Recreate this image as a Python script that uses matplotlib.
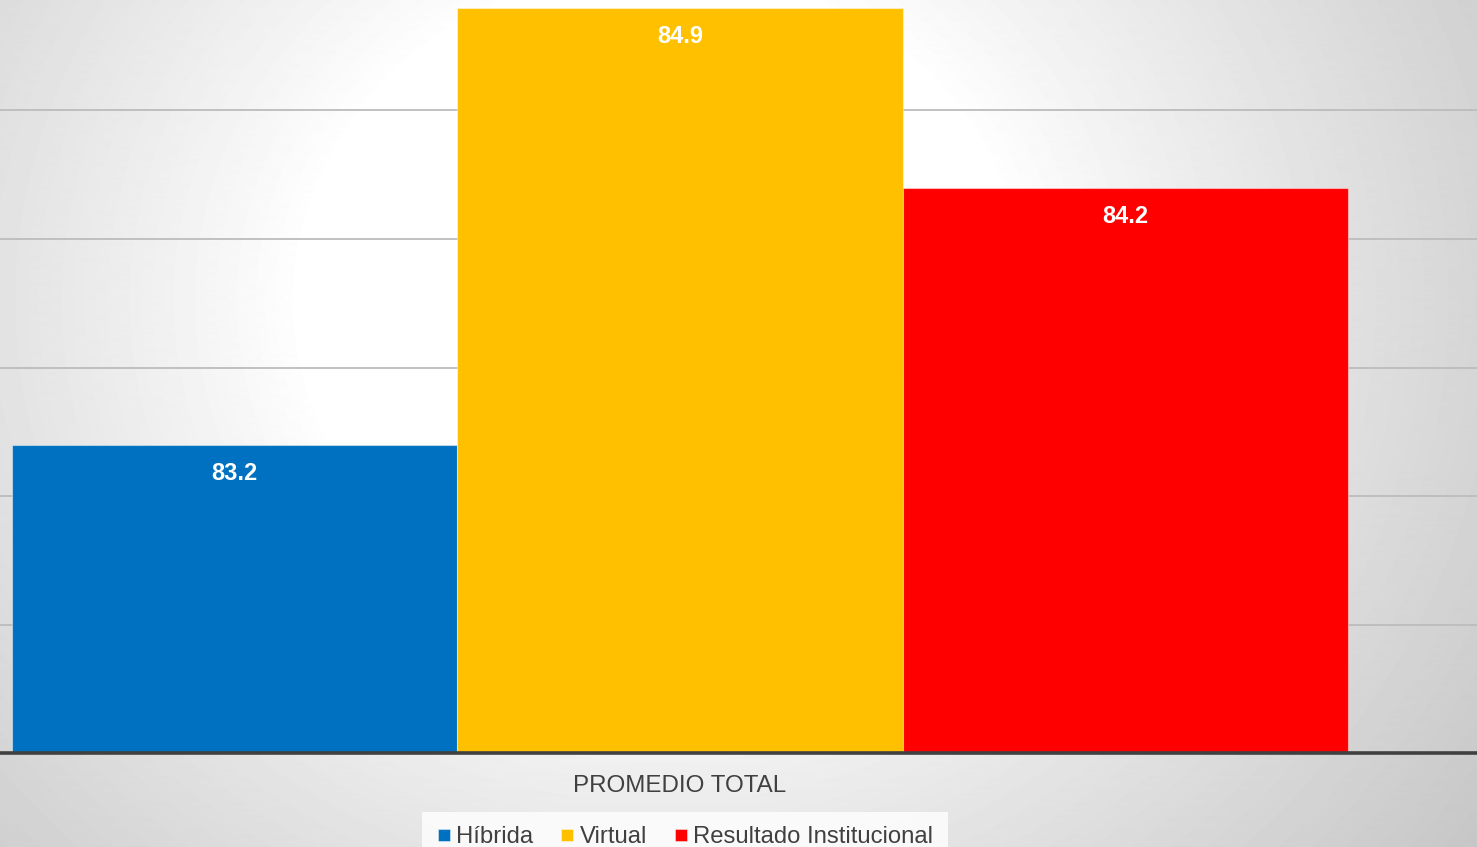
import numpy as np
import matplotlib

matplotlib.use("Agg")
import matplotlib.pyplot as plt
from matplotlib.lines import Line2D

plt.rcParams["font.family"] = ["Liberation Sans", "DejaVu Sans"]

# data
series = ["Híbrida", "Virtual", "Resultado Institucional"]
values = [83.2, 84.9, 84.2]
colors = ["#0070C0", "#FFC000", "#FF0000"]
category = "PROMEDIO TOTAL"
y_ticks = [82.5, 83.0, 83.5, 84.0, 84.5]

W, H = 1477, 847
fig = plt.figure(figsize=(W / 100, H / 100), dpi=100)

# radial grey-to-white backdrop
bg = fig.add_axes([0, 0, 1, 1], zorder=-10)
yy, xx = np.mgrid[0:H, 0:W]
dist = np.hypot(xx - 660, (yy - 300) * 1.1)
shade = 255 - 62 * np.clip((dist - 360) / 720, 0, 1) ** 0.9
bg.imshow(shade, cmap="gray", vmin=0, vmax=255, aspect="auto", extent=(0, 1, 0, 1))
bg.set_axis_off()

base_px = 753
px_per_unit = 257
ax = fig.add_axes([0, (H - base_px) / H, 1, base_px / H])
ax.set_facecolor("none")

x = np.arange(len(values)) - 1
bars = ax.bar(x, values, width=1.0, color=colors,
              edgecolor=(1, 1, 1, 0.45), linewidth=0.8, zorder=3)

ax.set_yticks(y_ticks)
ax.set_ylim(82, 82 + base_px / px_per_unit)
ax.set_xlim(-680 / 445.5, (W - 680) / 445.5)
ax.yaxis.grid(True, color="#bcbcbc", linewidth=1.3, zorder=0)
ax.tick_params(axis="y", left=False, labelleft=False)
ax.set_xticks([0])
ax.set_xticklabels([category], fontsize=17.4, color="#404040")
ax.tick_params(axis="x", length=0, pad=16)

for side in ("top", "left", "right"):
    ax.spines[side].set_visible(False)
ax.spines["bottom"].set_color("#404040")
ax.spines["bottom"].set_linewidth(2.6)
ax.spines["bottom"].set_zorder(5)

for rect, val in zip(bars, values):
    ax.annotate(f"{val:.1f}", (rect.get_x() + rect.get_width() / 2, val),
                xytext=(0, -20.8), textcoords="offset points",
                ha="center", va="center", fontsize=17, fontweight="bold",
                color="white", zorder=6)

handles = [Line2D([], [], marker="s", linestyle="none", markersize=8,
                  markerfacecolor=c, markeredgecolor=(1, 1, 1, 0.5),
                  markeredgewidth=0.6) for c in colors]
leg = fig.legend(handles, series, loc="center", ncol=3,
                 bbox_to_anchor=(685 / W, 1 - 837 / H), fontsize=17.2,
                 frameon=True, fancybox=False, handlelength=0.6,
                 handletextpad=0.2, columnspacing=1.15, borderpad=0.6,
                 borderaxespad=0, labelcolor="#404040")
leg.get_frame().set_facecolor((1, 1, 1, 0.25))
leg.get_frame().set_edgecolor("none")

fig.savefig("out.png", dpi=100)
